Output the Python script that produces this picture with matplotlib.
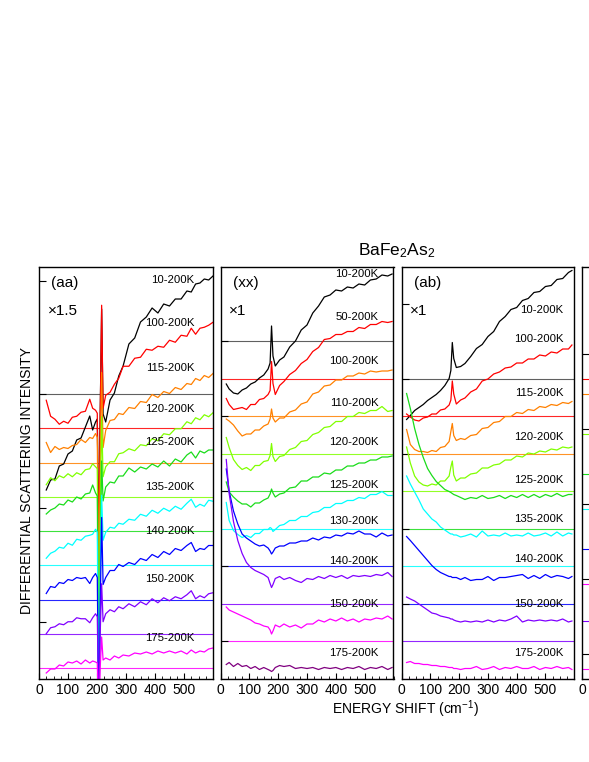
import numpy as np
import matplotlib.pyplot as plt

plt.rcParams['font.family'] = ['Liberation Sans', 'DejaVu Sans']
plt.rcParams['mathtext.default'] = 'regular'

# ---- (aa) panel, x1.5 ----
aa_x = [25, 40, 55, 70, 85, 100, 115, 130, 145, 160, 175, 185, 195, 201, 206, 211, 216, 221,
        230, 245, 260, 275, 290, 310, 330, 350, 370, 390, 410, 430, 450, 470, 490, 510, 525,
        540, 555, 570, 585, 600]
aa_temps = [10, 100, 115, 120, 125, 135, 140, 150, 175]
aa_10 = [-96, -86, -85, -72, -70, -60, -57, -46, -44, -33, -22, -36, -28, -25, -150, -20, 85, -20,
         -28, -6, 1, 18, 28, 50, 56, 72, 77, 86, 81, 90, 88, 95, 95, 103, 102, 110, 111, 115, 114, 118]
aa_100 = [28, 12, 9, 4, 7, 5, 11, 12, 16, 17, 29, 20, 18, 15, -150, 10, 123, 20,
          33, 36, 44, 50, 62, 62, 70, 71, 79, 78, 82, 81, 88, 86, 93, 92, 100, 94, 100, 101, 103, 106]
aa_115 = [20, 10, 16, 13, 15, 14, 17, 18, 23, 20, 25, 24, 29, 25, -160, -5, 90, 15,
          32, 42, 43, 49, 48, 55, 54, 61, 60, 68, 65, 71, 69, 75, 73, 79, 78, 84, 82, 87, 85, 89]
aa_120 = [12, 19, 16, 21, 19, 23, 20, 24, 22, 27, 28, 33, 30, 28, -170, -30, 80, 20,
          30, 35, 35, 43, 44, 48, 46, 52, 51, 58, 56, 63, 62, 68, 68, 75, 73, 79, 77, 82, 80, 84]
aa_125 = [17, 21, 23, 27, 26, 31, 29, 34, 32, 37, 38, 46, 38, 35, -170, -30, 70, 30,
          44, 49, 48, 55, 55, 63, 59, 64, 62, 67, 64, 70, 65, 72, 69, 76, 79, 73, 80, 78, 81, 81]
aa_135 = [7, 12, 14, 18, 17, 22, 20, 26, 25, 29, 30, 31, 36, 33, -150, -20, 70, 25,
          33, 38, 37, 42, 41, 46, 45, 51, 49, 55, 52, 57, 54, 59, 56, 62, 66, 58, 61, 59, 65, 64]
aa_140 = [6, 13, 12, 17, 16, 20, 19, 22, 21, 22, 16, 22, 26, 22, -120, -10, 82, 15,
          22, 29, 29, 35, 33, 37, 35, 41, 39, 45, 42, 48, 45, 51, 49, 54, 57, 48, 51, 50, 54, 54]
aa_150 = [0, 6, 7, 10, 9, 12, 12, 16, 15, 15, 11, 16, 20, 17, -80, 0, 50, 12,
          20, 24, 22, 27, 25, 30, 27, 32, 29, 35, 31, 36, 33, 37, 35, 39, 43, 35, 38, 36, 40, 41]
aa_175 = [-5, -1, -1, 3, 2, 6, 5, 7, 4, 8, 5, 7, 6, 5, -60, 0, 31, 8,
          10, 8, 12, 10, 13, 12, 15, 14, 16, 14, 17, 15, 17, 15, 17, 14, 18, 15, 17, 16, 19, 20]

# ---- (xx) panel, x1 ----
xx_x = [20, 30, 45, 60, 75, 90, 105, 120, 135, 150, 165, 172, 177, 182, 190, 205, 220, 240,
        260, 280, 300, 320, 340, 360, 380, 400, 420, 440, 460, 480, 500, 520, 540, 560, 580, 595]
xx_temps = [10, 50, 100, 110, 120, 125, 130, 140, 150, 175]
xx_10 = [-43, -48, -52, -53, -49, -47, -43, -41, -37, -34, -28, -22, 15, -15, -25, -19, -16, -6,
         0, 11, 16, 28, 35, 44, 46, 51, 50, 54, 53, 57, 56, 61, 62, 66, 65, 67]
xx_50 = [-20, -26, -31, -30, -29, -31, -26, -26, -21, -20, -16, -12, 17, -5, -16, -7, -3, 4,
         8, 15, 19, 27, 31, 39, 40, 44, 44, 47, 47, 51, 50, 54, 54, 57, 56, 57]
xx_100 = [-3, -5, -9, -15, -20, -18, -18, -14, -14, -10, -8, -3, 7, -2, -6, -2, -2, 4,
          6, 12, 14, 22, 24, 30, 31, 36, 36, 40, 40, 43, 42, 45, 44, 45, 45, 46]
xx_110 = [16, 6, -6, -12, -16, -14, -17, -12, -12, -8, -7, -2, 10, -3, -8, -3, -2, 4,
          6, 12, 13, 19, 21, 26, 27, 32, 32, 37, 37, 41, 40, 43, 43, 47, 42, 43]
xx_120 = [9, -1, -6, -10, -13, -13, -16, -12, -12, -9, -7, -3, 2, -2, -6, -3, -2, 3,
          4, 10, 10, 14, 14, 18, 17, 21, 21, 25, 25, 28, 28, 31, 31, 34, 34, 35]
xx_125 = [26, 8, -2, -6, -9, -7, -9, -5, -5, -1, -1, 1, 0, -3, -1, 3, 4, 8,
          8, 12, 12, 16, 17, 21, 21, 25, 25, 28, 28, 31, 30, 34, 34, 37, 33, 33]
xx_130 = [97, 75, 55, 42, 32, 28, 25, 22, 20, 21, 18, 15, 12, 14, 18, 20, 20, 23,
          23, 25, 25, 28, 26, 29, 28, 31, 30, 33, 32, 35, 32, 32, 29, 33, 30, 31]
xx_140 = [144, 110, 82, 63, 50, 41, 36, 33, 31, 29, 26, 20, 16, 19, 25, 27, 24, 26,
          23, 21, 25, 24, 27, 25, 28, 26, 28, 25, 28, 27, 28, 27, 29, 28, 31, 27]
xx_150 = [34, 31, 29, 27, 25, 23, 21, 18, 17, 15, 14, 11, 7, 10, 16, 14, 17, 14,
          16, 13, 17, 17, 21, 19, 22, 20, 23, 20, 22, 19, 22, 21, 23, 22, 25, 22]
xx_175 = [14, 16, 12, 15, 12, 13, 10, 12, 9, 11, 9, 8, 7, 8, 11, 13, 12, 13,
          10, 11, 10, 11, 9, 11, 10, 11, 9, 11, 10, 12, 9, 11, 10, 12, 9, 11]

# ---- (ab) panel, x1 ----
ab_x = [17, 30, 45, 60, 75, 90, 105, 120, 135, 150, 165, 171, 176, 181, 190, 205, 220, 240,
        260, 280, 300, 320, 340, 360, 380, 400, 420, 440, 460, 480, 500, 520, 540, 560, 580, 592]
ab_temps = [10, 100, 115, 120, 125, 135, 140, 150, 175]
ab_10 = [-41, -37, -32, -29, -26, -22, -19, -16, -12, -7, 0, 8, 36, 20, 11, 12, 15, 22,
         30, 34, 42, 47, 57, 62, 69, 71, 78, 80, 86, 87, 92, 93, 99, 100, 106, 108]
ab_100 = [2, -1, -4, -5, -2, -1, 2, 2, 6, 7, 11, 16, 35, 22, 12, 16, 18, 24,
          27, 35, 37, 42, 44, 48, 49, 53, 53, 57, 57, 61, 60, 64, 63, 67, 67, 71]
ab_115 = [24, 9, 4, 2, 2, 1, 3, 2, 6, 7, 12, 22, 30, 18, 13, 15, 14, 18,
          19, 25, 26, 31, 32, 37, 37, 41, 40, 44, 43, 47, 46, 49, 48, 51, 50, 52]
ab_120 = [44, 28, 15, 9, 6, 5, 7, 6, 10, 10, 15, 24, 30, 16, 10, 13, 13, 17,
          18, 23, 23, 26, 27, 31, 31, 35, 34, 38, 37, 40, 39, 42, 41, 44, 43, 44]
ab_125 = [135, 120, 100, 84, 71, 60, 53, 47, 43, 39, 37, 36, 35, 34, 33, 31, 29, 31,
          30, 33, 30, 31, 33, 30, 33, 31, 34, 31, 34, 31, 34, 32, 35, 32, 34, 34]
ab_135 = [90, 82, 74, 66, 57, 52, 47, 44, 39, 36, 33, 32, 32, 31, 31, 29, 30, 32,
          29, 35, 30, 31, 30, 33, 30, 31, 30, 33, 30, 31, 33, 30, 34, 30, 33, 32]
ab_140 = [67, 63, 58, 53, 48, 43, 38, 34, 31, 29, 27, 27, 26, 26, 26, 24, 26, 23,
          24, 24, 27, 23, 26, 26, 27, 28, 29, 25, 28, 25, 29, 26, 28, 27, 25, 27]
ab_150 = [44, 42, 40, 37, 34, 31, 28, 27, 25, 24, 23, 22, 22, 21, 20, 19, 20, 19,
          20, 19, 21, 19, 21, 20, 22, 25, 19, 21, 20, 21, 20, 21, 20, 22, 19, 20]
ab_175 = [16, 17, 15, 15, 14, 14, 13, 13, 12, 12, 11, 11, 11, 10, 10, 9, 10, 10,
          12, 9, 10, 12, 9, 11, 10, 12, 10, 10, 12, 9, 11, 10, 12, 10, 11, 9]

# ---- layout / style ----
aa_colors = ['#000000', '#ff0000', '#ff8000', '#80ff00', '#1adc1a', '#00ffff', '#0000ff', '#8000ff', '#ff00ff']
xx_colors = ['#000000', '#ff0000', '#ff8000', '#80ff00', '#1adc1a', '#00ffff', '#0000ff', '#8000ff', '#ff00ff', '#800080']
ab_colors = aa_colors

aa_label_dy = [114, 105, 95, 88, 89, 78, 68, 55, 30]
xx_label_dy = [67, 62, 55, 51, 49, 44, 45, 42, 37, 25]
ab_label_dy = [69, 77, 61, 54, 49, 47, 45, 37, 26]

fig = plt.figure(figsize=(5.89, 7.62), dpi=100)
W, H = 589, 762
bot, hgt = (H - 679) / H, 412 / H


def make_ax(left_px, width_px, labels=True):
    ax = fig.add_axes([left_px / W, bot, width_px / W, hgt])
    ax.set_xlim(0, 600)
    ax.set_xticks([0, 100, 200, 300, 400, 500])
    if not labels:
        ax.set_xticklabels(['0', '', '', '', '', ''])
    ax.set_xticks(np.arange(0, 601, 25), minor=True)
    ax.tick_params(axis='x', which='major', direction='in', length=4, labelsize=10, pad=3, top=False)
    ax.tick_params(axis='x', which='minor', direction='in', length=2, top=False)
    ax.tick_params(axis='y', direction='in', length=5, labelleft=False, right=False)
    for s in ax.spines.values():
        s.set_linewidth(1.0)
    return ax


def draw_panel(ax, x, curves, temps, colors, step, label_dy, label_x, tag, factor):
    n = len(curves)
    for i, (y, t, c) in enumerate(zip(curves, temps, colors)):
        off = (n - 1 - i) * step
        ax.axhline(off, color=c if c != '#000000' else '#444444', lw=0.8, alpha=0.85, zorder=1)
        ax.plot(x, np.array(y) + off, color=c, lw=0.9, zorder=2)
        ax.text(label_x, off + label_dy[i], f'{t}-200K', ha='right', va='center', fontsize=8.2)
    ax.text(0.07, 0.962, tag, transform=ax.transAxes, fontsize=11, va='center')
    ax.text(0.05, 0.892, '\u00d7' + factor, transform=ax.transAxes, fontsize=11, va='center')


ax1 = make_ax(39, 174)
draw_panel(ax1, aa_x, [aa_10, aa_100, aa_115, aa_120, aa_125, aa_135, aa_140, aa_150, aa_175],
           aa_temps, aa_colors, 34.25, aa_label_dy, 535, '(aa)', '1.5')
ax1.set_ylim(-11, 401)
ax1.set_yticks([46, 160, 274, 387])

ax2 = make_ax(220.5, 173)
draw_panel(ax2, xx_x, [xx_10, xx_50, xx_100, xx_110, xx_120, xx_125, xx_130, xx_140, xx_150, xx_175],
           xx_temps, xx_colors, 37.5, xx_label_dy, 548, '(xx)', '1')
ax2.set_ylim(-0.5, 411.5)
ax2.set_yticks([37.5, 112.5, 187.5, 262.5, 337.5])

ax3 = make_ax(401.7, 172.5)
draw_panel(ax3, ab_x, [ab_10, ab_100, ab_115, ab_120, ab_125, ab_135, ab_140, ab_150, ab_175],
           ab_temps, ab_colors, 37.5, ab_label_dy, 563, '(ab)', '1')
ax3.set_ylim(-0.5, 411.5)
ax3.set_yticks([75, 150, 225, 300, 375])

# fourth panel, cut off at the right edge
ax4 = make_ax(582, 173, labels=False)
ax4.set_ylim(-0.5, 411.5)
ax4.set_yticks([25, 100, 175, 250, 325])
for off, c in zip([10, 58, 95, 130, 170, 205, 245, 285, 300],
                  ['#ff00ff', '#8000ff', '#ff00ff', '#0000ff', '#00ffff', '#1adc1a', '#80ff00', '#ff8000', '#ff0000']):
    ax4.axhline(off, color=c, lw=0.8)

fig.text(396.5 / W, 1 - 251 / H, 'BaFe$_2$As$_2$', ha='center', va='center', fontsize=12.5)
fig.text(27 / W, 1 - 481 / H, 'DIFFERENTIAL SCATTERING INTENSITY', rotation=90,
         ha='center', va='center', fontsize=10)
fig.text(405 / W, 1 - 709 / H, 'ENERGY SHIFT (cm$^{-1}$)', ha='center', va='center', fontsize=10)

fig.savefig('out.png', dpi=100)
